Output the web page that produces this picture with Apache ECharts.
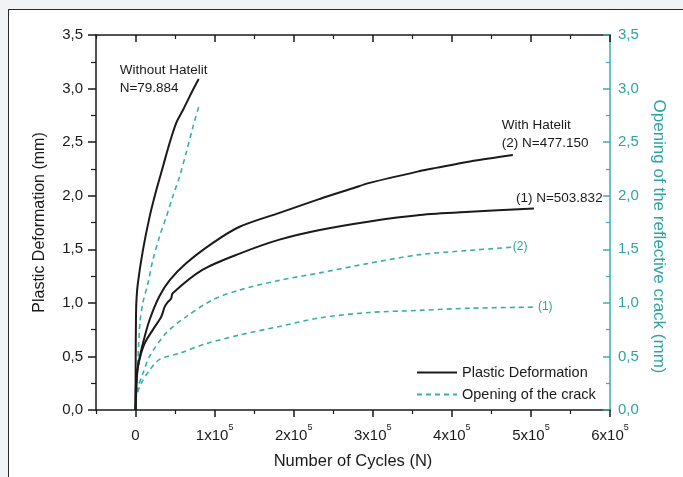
<!DOCTYPE html>
<html>
<head>
<meta charset="utf-8">
<script src="https://cdn.jsdelivr.net/npm/echarts@6/dist/echarts.min.js"></script>
<style>
  html, body { margin: 0; padding: 0; width: 683px; height: 477px; background: #f2f3f5; overflow: hidden; }
  #frame { position: absolute; left: 8px; top: 9px; width: 700px; height: 500px; background: #fff; border-left: 1.5px solid #2a2a2a; border-top: 1.5px solid #2a2a2a; }
  #chart { position: absolute; left: 0; top: 0; width: 683px; height: 477px; }
</style>
</head>
<body>
<div id="frame"></div>
<div id="chart"></div>
<script>
// ---- data (N = number of cycles, values in mm) ----
const xMajorTicks = [0, 100000, 200000, 300000, 400000, 500000, 600000];
const xMinorTicks = [-50000, 50000, 150000, 250000, 350000, 450000, 550000];
const yTicks = [0, 0.5, 1.0, 1.5, 2.0, 2.5, 3.0, 3.5];

// Without Hatelit
const noHatelitPlasticN = [0, 200, 500, 1000, 2900, 9300, 17700, 26200, 34600, 43000, 51500, 60000, 66000, 72000, 79884];
const noHatelitPlasticV = [0, 0.5, 0.8, 1.0, 1.18, 1.49, 1.80, 2.05, 2.27, 2.49, 2.68, 2.80, 2.89, 2.98, 3.09];
const noHatelitCrackN = [0, 1000, 3000, 5500, 9300, 15600, 21900, 30400, 38800, 47000, 55700, 64000, 72500, 79884];
const noHatelitCrackV = [0, 0.22, 0.47, 0.81, 1.00, 1.18, 1.40, 1.62, 1.80, 1.99, 2.18, 2.40, 2.64, 2.83];

// With Hatelit (2)
const hatelit2PlasticN = [0, 1000, 2900, 9300, 17700, 30000, 43000, 64000, 97900, 131600, 182000, 233000, 275000, 296000, 359500, 380000, 423000, 477150];
const hatelit2PlasticV = [0, 0.19, 0.40, 0.62, 0.84, 1.06, 1.21, 1.37, 1.56, 1.71, 1.84, 1.97, 2.07, 2.12, 2.23, 2.26, 2.32, 2.38];
const hatelit2CrackN = [0, 1000, 9300, 17700, 38800, 64000, 97900, 131600, 182000, 233000, 296000, 359500, 423000, 477150];
const hatelit2CrackV = [0, 0.16, 0.34, 0.50, 0.72, 0.87, 1.03, 1.12, 1.21, 1.28, 1.37, 1.45, 1.49, 1.52];

// With Hatelit (1)
const hatelit1PlasticN = [0, 800, 5000, 11400, 22000, 32500, 36700, 40000, 45000, 47000, 85000, 131600, 182000, 233000, 296000, 359500, 423000, 503832];
const hatelit1PlasticV = [0, 0.28, 0.47, 0.62, 0.75, 0.87, 0.96, 1.00, 1.04, 1.09, 1.31, 1.46, 1.59, 1.68, 1.76, 1.82, 1.85, 1.88];
const hatelit1CrackN = [0, 1000, 7200, 17700, 30000, 55700, 89500, 131600, 182000, 233000, 296000, 359500, 423000, 503832];
const hatelit1CrackV = [0, 0.12, 0.25, 0.37, 0.47, 0.53, 0.62, 0.70, 0.78, 0.86, 0.91, 0.93, 0.95, 0.96];

const labelNoHatelit = 'Without Hatelit\nN=79.884';
const labelHatelit2 = 'With Hatelit\n(2) N=477.150';
const labelHatelit1 = '(1) N=503.832';
const labelCrack2 = '(2)';
const labelCrack1 = '(1)';

// ---- chart ----
const FONT = "'Liberation Sans', Arial, sans-serif";
const BLACK = '#1a1a1a';
const TEAL = '#3aaeae';
const TEAL_TEXT = '#2fa3a3';

const zip = (a, b) => a.map((v, i) => [v, b[i]]);
const last = (a, b) => [a[a.length - 1], b[b.length - 1]];
const yFmt = v => v.toFixed(1).replace('.', ',');

function endMark(N, V, text, offset, color, size, lh) {
  return {
    symbol: 'circle', symbolSize: 0, silent: true, animation: false,
    data: [{ coord: last(N, V) }],
    label: {
      show: true, position: 'inside', formatter: text, align: 'left', verticalAlign: 'middle',
      offset: offset, color: color, fontSize: size, lineHeight: lh, fontFamily: FONT
    }
  };
}

function solid(N, V, mark) {
  return {
    type: 'line', name: 'Plastic Deformation', xAxisIndex: 0, yAxisIndex: 0,
    data: zip(N, V), symbol: 'none', showSymbol: false, smooth: 0.3, silent: true,
    lineStyle: { color: BLACK, width: 2, type: 'solid' }, itemStyle: { color: BLACK },
    emphasis: { disabled: true }, markPoint: mark, z: 3
  };
}
function dashed(N, V, mark) {
  return {
    type: 'line', name: 'Opening of the crack', xAxisIndex: 0, yAxisIndex: 1,
    data: zip(N, V), symbol: 'none', showSymbol: false, smooth: 0.3, silent: true,
    lineStyle: { color: TEAL, width: 1.6, type: [5, 4] }, itemStyle: { color: TEAL },
    emphasis: { disabled: true }, markPoint: mark, z: 2
  };
}

const xBase = { type: 'value', min: -50000, max: 600000, splitLine: { show: false }, gridIndex: 0 };

const option = {
  animation: false,
  textStyle: { fontFamily: FONT },
  grid: { left: 96, right: 73, top: 35, bottom: 67, containLabel: false },
  legend: {
    orient: 'vertical', left: 416, top: 365, itemWidth: 40, itemHeight: 12, itemGap: 7,
    padding: 0, selectedMode: false,
    itemStyle: { opacity: 0 },
    data: ['Plastic Deformation', 'Opening of the crack'],
    textStyle: { fontSize: 14.5, color: BLACK, fontFamily: FONT, padding: [0, 0, 0, 0] }
  },
  xAxis: [
    Object.assign({}, xBase, {
      position: 'bottom',
      name: 'Number of Cycles (N)', nameLocation: 'middle', nameGap: 43,
      nameTextStyle: { fontSize: 16.5, color: BLACK, fontFamily: FONT },
      axisLine: { show: true, onZero: false, lineStyle: { color: BLACK, width: 1.5 } },
      axisTick: { show: true, inside: false, length: 7, customValues: xMajorTicks, lineStyle: { color: BLACK, width: 1.5 } },
      axisLabel: {
        show: true, margin: 13, customValues: xMajorTicks, color: BLACK, fontFamily: FONT,
        formatter: v => v === 0 ? '{a|0}' : '{a|' + (v / 100000) + 'x10}{s|5}',
        rich: {
          a: { fontSize: 15, color: BLACK, fontFamily: FONT, lineHeight: 20, verticalAlign: 'bottom' },
          s: { fontSize: 9, color: BLACK, fontFamily: FONT, lineHeight: 20, verticalAlign: 'top' }
        }
      }
    }),
    Object.assign({}, xBase, {
      position: 'bottom',
      axisLine: { show: false, onZero: false },
      axisTick: { show: true, inside: false, length: 4, customValues: xMinorTicks, lineStyle: { color: BLACK, width: 1.2 } },
      axisLabel: { show: false }
    }),
    Object.assign({}, xBase, {
      position: 'top',
      axisLine: { show: true, onZero: false, lineStyle: { color: BLACK, width: 1.5 } },
      axisTick: { show: true, inside: true, length: 7, customValues: xMajorTicks, lineStyle: { color: BLACK, width: 1.5 } },
      axisLabel: { show: false }
    }),
    Object.assign({}, xBase, {
      position: 'top',
      axisLine: { show: false, onZero: false },
      axisTick: { show: true, inside: true, length: 4, customValues: xMinorTicks, lineStyle: { color: BLACK, width: 1.2 } },
      axisLabel: { show: false }
    })
  ],
  yAxis: [
    {
      type: 'value', position: 'left', min: 0, max: 3.5, interval: 0.5,
      name: 'Plastic Deformation (mm)', nameLocation: 'middle', nameGap: 48,
      nameTextStyle: { fontSize: 16, color: BLACK, fontFamily: FONT },
      splitLine: { show: false },
      axisLine: { show: true, onZero: false, lineStyle: { color: BLACK, width: 1.5 } },
      axisTick: { show: true, inside: false, length: 8, lineStyle: { color: BLACK, width: 1.5 } },
      minorTick: { show: true, splitNumber: 2, length: 5, lineStyle: { color: BLACK, width: 1.2 } },
      minorSplitLine: { show: false },
      axisLabel: { margin: 13, fontSize: 15, color: BLACK, fontFamily: FONT, formatter: yFmt }
    },
    {
      type: 'value', position: 'right', min: 0, max: 3.5, interval: 0.5,
      name: 'Opening of the reflective crack (mm)', nameLocation: 'middle', nameGap: 40, nameRotate: -90,
      nameTextStyle: { fontSize: 17, color: TEAL_TEXT, fontFamily: FONT, padding: [0, 0, 0, 28] },
      splitLine: { show: false },
      axisLine: { show: true, onZero: false, lineStyle: { color: TEAL, width: 1.5 } },
      axisTick: { show: true, inside: true, length: 7, lineStyle: { color: TEAL, width: 1.5 } },
      minorTick: { show: true, splitNumber: 2, length: 4, lineStyle: { color: TEAL, width: 1.2 } },
      minorSplitLine: { show: false },
      axisLabel: { margin: 8, fontSize: 15, color: TEAL_TEXT, fontFamily: FONT, formatter: yFmt }
    }
  ],
  series: [
    solid(noHatelitPlasticN, noHatelitPlasticV, endMark(noHatelitPlasticN, noHatelitPlasticV, labelNoHatelit, [-79, 0], BLACK, 13.5, 18)),
    solid(hatelit2PlasticN, hatelit2PlasticV, endMark(hatelit2PlasticN, hatelit2PlasticV, labelHatelit2, [-11, -21], BLACK, 13.5, 18)),
    solid(hatelit1PlasticN, hatelit1PlasticV, endMark(hatelit1PlasticN, hatelit1PlasticV, labelHatelit1, [-18, -10], BLACK, 13.5, 16)),
    dashed(noHatelitCrackN, noHatelitCrackV, null),
    dashed(hatelit2CrackN, hatelit2CrackV, endMark(hatelit2CrackN, hatelit2CrackV, labelCrack2, [0, 0], TEAL_TEXT, 12, 14)),
    dashed(hatelit1CrackN, hatelit1CrackV, endMark(hatelit1CrackN, hatelit1CrackV, labelCrack1, [4, 0], TEAL_TEXT, 12, 14))
  ]
};

const chart = echarts.init(document.getElementById('chart'), null, { renderer: 'canvas' });
chart.setOption(option);
</script>
</body>
</html>
